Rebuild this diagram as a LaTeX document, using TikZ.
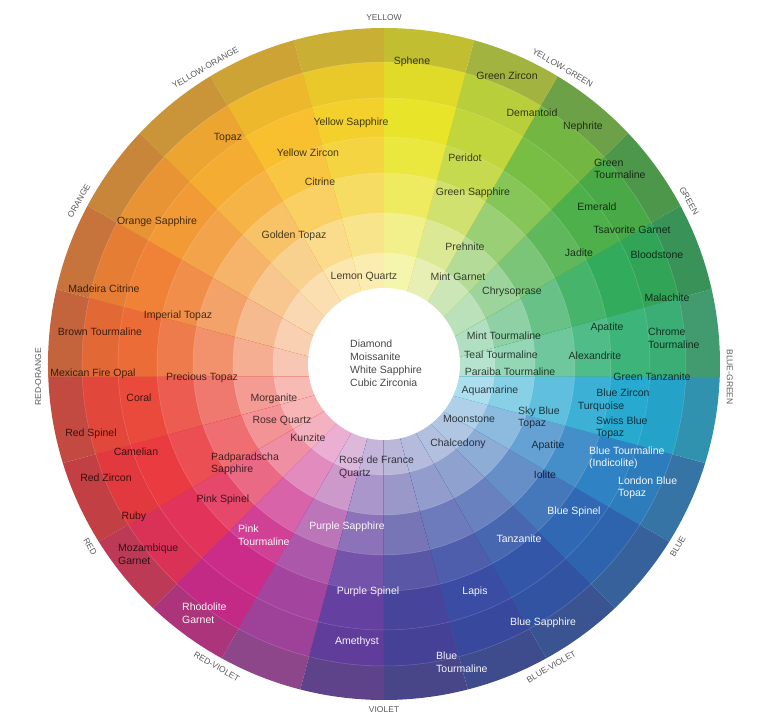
\documentclass[tikz,border=0pt]{standalone}
\usepackage{fontspec}
\setmainfont{Liberation Sans}
\definecolor{hue0}{HTML}{3DB57A}
\definecolor{hue1}{HTML}{33AB5C}
\definecolor{hue2}{HTML}{4DB04A}
\definecolor{hue3}{HTML}{78BE45}
\definecolor{hue4}{HTML}{C0D63C}
\definecolor{hue5}{HTML}{E8E42A}
\definecolor{hue6}{HTML}{F3D02C}
\definecolor{hue7}{HTML}{F8C02E}
\definecolor{hue8}{HTML}{F5AC32}
\definecolor{hue9}{HTML}{F29A36}
\definecolor{hue10}{HTML}{EF8236}
\definecolor{hue11}{HTML}{EC6C38}
\definecolor{hue12}{HTML}{EA4A3C}
\definecolor{hue13}{HTML}{EA3B40}
\definecolor{hue14}{HTML}{E2345A}
\definecolor{hue15}{HTML}{CB2C8A}
\definecolor{hue16}{HTML}{A3449F}
\definecolor{hue17}{HTML}{6440A0}
\definecolor{hue18}{HTML}{47449C}
\definecolor{hue19}{HTML}{3A4CA4}
\definecolor{hue20}{HTML}{3456A8}
\definecolor{hue21}{HTML}{3068B4}
\definecolor{hue22}{HTML}{2F82C4}
\definecolor{hue23}{HTML}{27A9D0}
\begin{document}
\begin{tikzpicture}[x=1pt, y=1pt, every node/.style={inner sep=0pt, font=\fontsize{10.5}{12.5}\selectfont},
    gemdark/.style={text=black, text opacity=.72},
    gemlight/.style={text=white, text opacity=.95},
    huelabel/.style={text=black!65, font=\fontsize{8.5}{10}\selectfont}]
    \useasboundingbox (-384,-340) rectangle (385,377);
    % wheel: 24 wedges from (0,0), rings round (0,13)
    \foreach \a [count=\i from 0] in {0,15,...,345} {
        \begin{scope}
            \clip (0,0) -- (\a:720) -- (\a+15:720) -- cycle;
            \fill[hue\i!88!black!85!gray] (0,13) circle (336);
            \fill[hue\i!96!black] (0,13) circle (302);
            \fill[hue\i] (0,13) circle (266);
            \fill[hue\i!90!white] (0,13) circle (227);
            \fill[hue\i!74!white] (0,13) circle (191);
            \fill[hue\i!55!white] (0,13) circle (151);
            \fill[hue\i!38!white] (0,13) circle (111);
        \end{scope}
    }
    \foreach \r in {111,151,191,227,266,302}
        \draw[white, opacity=.2, line width=.5pt] (0,13) circle (\r);
    \fill[white] (0,13) circle (76);
    % hue names
    \node[huelabel] (yellow) at (0,359) {YELLOW};
    \node[huelabel, rotate=-30] (ygreen) at (178.6,309.3) {YELLOW-GREEN};
    \node[huelabel, rotate=-60] (green) at (305.1,176.2) {GREEN};
    \node[huelabel, rotate=-90] (bgreen) at (345.8,0) {BLUE-GREEN};
    \node[huelabel, rotate=60] (blue) at (293.8,-169.7) {BLUE};
    \node[huelabel, rotate=30] (bviolet) at (167.3,-289.8) {BLUE-VIOLET};
    \node[huelabel] (violet) at (0,-333) {VIOLET};
    \node[huelabel, rotate=-30] (rviolet) at (-167.3,-289.8) {RED-VIOLET};
    \node[huelabel, rotate=-60] (red) at (-293.8,-169.7) {RED};
    \node[huelabel, rotate=90] (rorange) at (-345.8,0) {RED-ORANGE};
    \node[huelabel, rotate=60] (orange) at (-305.1,176.2) {ORANGE};
    \node[huelabel, rotate=30] (yorange) at (-178.6,309.3) {YELLOW-ORANGE};
    % centre
    \node[gemdark, anchor=west, align=left, font=\fontsize{10.5}{13}\selectfont] (clear) at (-34,14) {Diamond\\Moissanite\\White Sapphire\\Cubic Zirconia};
    % yellow and green side
    \node[gemdark] (lemon) at (-20,100) {Lemon Quartz};
    \node[gemdark] (mintg) at (74,100) {Mint Garnet};
    \node[gemdark] (chryso) at (128,85) {Chrysoprase};
    \node[gemdark] (prehn) at (81,130) {Prehnite};
    \node[gemdark] (golden) at (-90,141) {Golden Topaz};
    \node[gemdark] (gsapph) at (89,184) {Green Sapphire};
    \node[gemdark] (citrine) at (-64,195) {Citrine};
    \node[gemdark] (peridot) at (81,219) {Peridot};
    \node[gemdark] (yzircon) at (-76,224) {Yellow Zircon};
    \node[gemdark] (ysapph) at (-33,254) {Yellow Sapphire};
    \node[gemdark] (topaz) at (-156,239) {Topaz};
    \node[gemdark] (demant) at (148,264) {Demantoid};
    \node[gemdark] (nephr) at (199,250) {Nephrite};
    \node[gemdark] (sphene) at (28,315) {Sphene};
    \node[gemdark] (gzircon) at (123,301) {Green Zircon};
    \node[gemdark, anchor=west, align=left] (gtourm) at (210,208) {Green\\Tourmaline};
    \node[gemdark] (emerald) at (213,170) {Emerald};
    \node[gemdark] (tsavo) at (248,147) {Tsavorite Garnet};
    \node[gemdark] (jadite) at (195,124) {Jadite};
    \node[gemdark] (blood) at (273,122) {Bloodstone};
    \node[gemdark] (malach) at (283,79) {Malachite};
    \node[gemdark] (apatg) at (223,49) {Apatite};
    \node[gemdark, anchor=west, align=left] (chrome) at (264,39) {Chrome\\Tourmaline};
    \node[gemdark] (alex) at (211,21) {Alexandrite};
    \node[gemdark] (mintt) at (120,41) {Mint Tourmaline};
    \node[gemdark] (tealt) at (117,22) {Teal Tourmaline};
    \node[gemdark] (paraiba) at (126,5) {Paraiba Tourmaline};
    % blue side
    \node[gemdark] (gtanz) at (268,0) {Green Tanzanite};
    \node[gemdark] (bzircon) at (239,-16) {Blue Zircon};
    \node[gemdark] (turq) at (217,-30) {Turquoise};
    \node[gemdark, anchor=west, align=left] (swiss) at (212,-51) {Swiss Blue\\Topaz};
    \node[gemlight, anchor=west, align=left] (indico) at (205,-81) {Blue Tourmaline\\(Indicolite)};
    \node[gemlight, anchor=west, align=left] (london) at (234,-111) {London Blue\\Topaz};
    \node[gemdark] (aqua) at (106,-14) {Aquamarine};
    \node[gemdark, anchor=west, align=left] (skyblue) at (134,-41) {Sky Blue\\Topaz};
    \node[gemdark] (moon) at (85,-42) {Moonstone};
    \node[gemdark] (chalc) at (74,-67) {Chalcedony};
    \node[gemdark] (apatb) at (164,-69) {Apatite};
    \node[gemdark] (iolite) at (161,-98) {Iolite};
    \node[gemlight] (bspinel) at (190,-135) {Blue Spinel};
    \node[gemlight] (tanz) at (135,-162) {Tanzanite};
    \node[gemlight] (lapis) at (91,-215) {Lapis};
    \node[gemlight] (bsapph) at (159,-246) {Blue Sapphire};
    \node[gemlight, anchor=west, align=left] (btourm) at (52,-285) {Blue\\Tourmaline};
    % violet and red side
    \node[gemlight] (amethyst) at (-27,-265) {Amethyst};
    \node[gemlight] (pspinel) at (-16,-215) {Purple Spinel};
    \node[gemlight] (psapph) at (-37,-150) {Purple Sapphire};
    \node[gemdark, anchor=west, align=left] (rosefr) at (-45,-90) {Rose de France\\Quartz};
    \node[gemlight, anchor=west, align=left] (rhodo) at (-202,-236) {Rhodolite\\Garnet};
    \node[gemlight, anchor=west, align=left] (ptourm) at (-146,-158) {Pink\\Tourmaline};
    \node[gemdark, anchor=west, align=left] (mozam) at (-266,-177) {Mozambique\\Garnet};
    \node[gemdark] (ruby) at (-250,-140) {Ruby};
    \node[gemdark] (pinksp) at (-161,-123) {Pink Spinel};
    \node[gemdark] (rzircon) at (-278,-101) {Red Zircon};
    \node[gemdark, anchor=west, align=left] (padpar) at (-173,-87) {Padparadscha\\Sapphire};
    \node[gemdark] (camel) at (-248,-75) {Camelian};
    \node[gemdark] (kunz) at (-76,-61) {Kunzite};
    \node[gemdark] (rspinel) at (-293,-57) {Red Spinel};
    \node[gemdark] (roseq) at (-102,-44) {Rose Quartz};
    \node[gemdark] (coral) at (-245,-21) {Coral};
    \node[gemdark] (morgan) at (-110,-22) {Morganite};
    % orange side
    \node[gemdark] (precious) at (-182,-1) {Precious Topaz};
    \node[gemdark] (mexican) at (-291,3) {Mexican Fire Opal};
    \node[gemdark] (brownt) at (-284,45) {Brown Tourmaline};
    \node[gemdark] (imperial) at (-206,61) {Imperial Topaz};
    \node[gemdark] (madeira) at (-280,88) {Madeira Citrine};
    \node[gemdark] (osapph) at (-227,155) {Orange Sapphire};
\end{tikzpicture}
\end{document}
